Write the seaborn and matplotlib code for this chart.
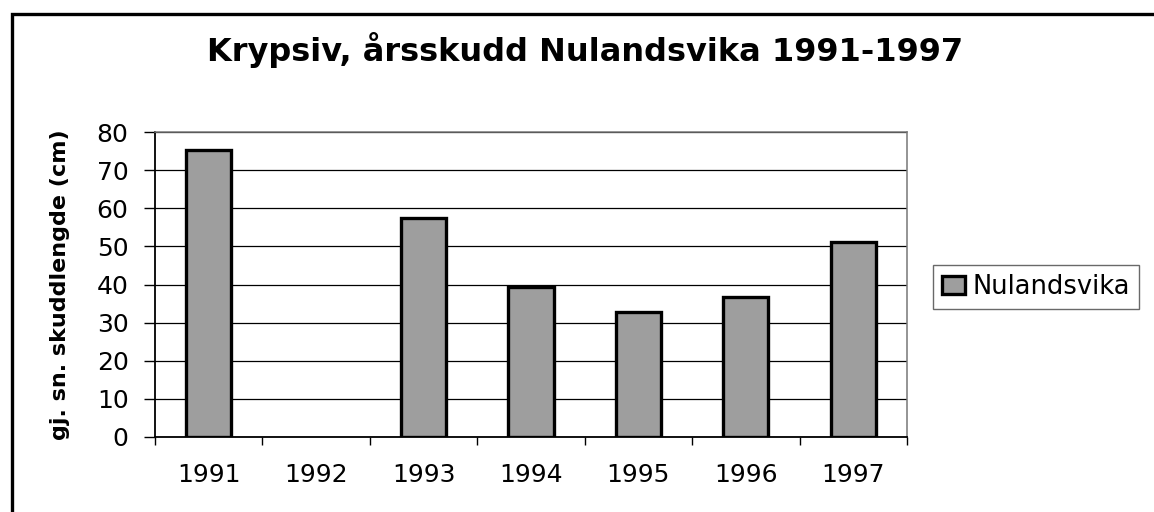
import pandas as pd
import numpy as np
import matplotlib
matplotlib.use('Agg')
import matplotlib.pyplot as plt
import seaborn as sns
from matplotlib.patches import Rectangle, Patch

# values (1992 has no bar)
years = ['1991', '1992', '1993', '1994', '1995', '1996', '1997']
shoot_length = [75.2, np.nan, 57.4, 39.3, 32.7, 36.7, 51.1]
series_name = 'Nulandsvika'

df = pd.DataFrame({'year': years, 'length': shoot_length})

sns.set_theme(style='white')
plt.rcParams['font.family'] = ['DejaVu Sans']
plt.rcParams['text.color'] = 'black'
plt.rcParams['axes.labelcolor'] = 'black'
plt.rcParams['xtick.color'] = 'black'
plt.rcParams['ytick.color'] = 'black'

fig = plt.figure(figsize=(11.54, 5.12), dpi=100)
ax = fig.add_axes([155 / 1154, 1 - 437 / 512, 752 / 1154, 305 / 512])

bar_color = '#9e9e9e'
sns.barplot(data=df, x='year', y='length', order=years, color=bar_color,
            saturation=1, width=0.42, edgecolor='black', linewidth=2.4,
            errorbar=None, ax=ax, zorder=3)

ax.set_ylim(0, 80)
ax.set_xlim(-0.5, len(years) - 0.5)
ax.set_yticks(range(0, 81, 10))
ax.yaxis.grid(True, color='black', linewidth=0.9)
ax.set_axisbelow(True)

# tick marks sit between the categories
ax.set_xticks(np.arange(-0.5, len(years), 1.0), minor=True)
ax.tick_params(axis='x', which='major', length=0, pad=19, labelsize=18)
ax.tick_params(axis='x', which='minor', length=6, width=1,
               direction='out', bottom=True)
ax.tick_params(axis='y', length=8, width=1, direction='out',
               left=True, pad=11, labelsize=18)

for side in ['left', 'bottom']:
    ax.spines[side].set_color('black')
    ax.spines[side].set_linewidth(1.3)
for side in ['top', 'right']:
    ax.spines[side].set_color('#777777')
    ax.spines[side].set_linewidth(1.1)

ax.set_xlabel('')
ax.set_ylabel('gj. sn. skuddlengde (cm)', fontsize=16, fontweight='bold')
ax.yaxis.set_label_coords(-0.113, 0.5)

fig.text(0.507, 1 - 50 / 512, 'Krypsiv, årsskudd Nulandsvika 1991-1997',
         ha='center', va='center', fontsize=23, fontweight='bold')

handle = Patch(facecolor=bar_color, edgecolor='black', linewidth=2.4)
leg = fig.legend([handle], [series_name], loc='center left',
                 bbox_to_anchor=(933 / 1154, 1 - 287 / 512),
                 fontsize=18.5, frameon=True, fancybox=False,
                 handlelength=0.9, handleheight=0.7, handletextpad=0.3,
                 borderpad=0.35, borderaxespad=0)
leg.get_frame().set_edgecolor('#444444')
leg.get_frame().set_linewidth(1.0)

# outer chart frame, running off the right and bottom edges
fig.patches.append(Rectangle((12 / 1154, -0.1), 1.2, 1 - 14 / 512 + 0.1,
                             transform=fig.transFigure, fill=False,
                             edgecolor='black', linewidth=2.4, clip_on=False))

fig.savefig('out.png', dpi=100)
